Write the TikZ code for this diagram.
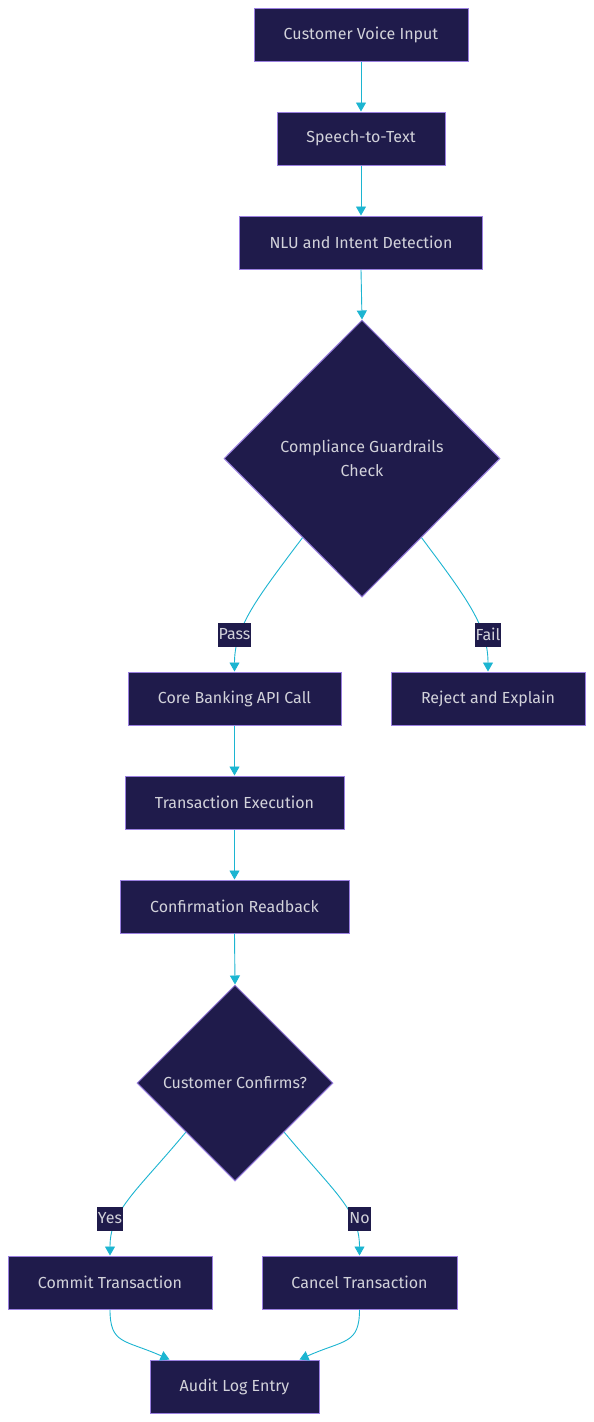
\documentclass[tikz,border=0pt]{standalone}
\usepackage{fontspec}
\setmainfont{Fira Sans}
\usetikzlibrary{shapes.geometric,arrows.meta,calc}

\definecolor{boxfill}{HTML}{1F1B4B}
\definecolor{boxline}{HTML}{9A7FE0}
\definecolor{boxtext}{HTML}{D2D2DA}
\definecolor{flowline}{HTML}{1CB5D1}

\tikzset{
  stepbox/.style={rectangle, draw=boxline, fill=boxfill, text=boxtext,
    line width=1pt, minimum height=53pt, inner sep=0pt,
    font=\fontsize{16}{19}\selectfont},
  decision/.style={diamond, draw=boxline, fill=boxfill, text=boxtext,
    line width=1pt, inner sep=0pt, align=center,
    font=\fontsize{16}{24}\selectfont},
  flow/.style={draw=flowline, line width=0.9pt,
    -{Triangle[width=10pt,length=9pt]}},
  lbl/.style={fill=boxfill, text=boxtext, inner xsep=1pt, inner ysep=0pt,
    minimum height=24pt, font=\fontsize{16}{19}\selectfont}
}

\begin{document}
\begin{tikzpicture}[x=1pt,y=-1pt]

  \fill[white] (0,0) rectangle (594,1422);
  \useasboundingbox (0,0) rectangle (594,1422);

  % steps
  \node[stepbox, minimum width=214pt] (voice)  at (361,35)    {Customer Voice Input};
  \node[stepbox, minimum width=168pt] (stt)    at (361,138.5) {Speech-to-Text};
  \node[stepbox, minimum width=243pt] (nlu)    at (361,242.5) {NLU and Intent Detection};
  \node[decision, minimum width=276pt, minimum height=277pt] (comp) at (362,458.5)
    {Compliance Guardrails\\Check};
  \node[stepbox, minimum width=213pt] (core)   at (234.5,698.5) {Core Banking API Call};
  \node[stepbox, minimum width=194pt] (reject) at (488,698.5)   {Reject and Explain};
  \node[stepbox, minimum width=219pt] (exec)   at (234.5,802.5) {Transaction Execution};
  \node[stepbox, minimum width=229pt] (readback) at (234.5,906.5) {Confirmation Readback};
  \node[decision, minimum width=196pt, minimum height=196pt] (confirm) at (235,1083)
    {Customer Confirms?};
  \node[stepbox, minimum width=204pt] (commit) at (110,1282.5)   {Commit Transaction};
  \node[stepbox, minimum width=195pt] (cancel) at (359.5,1282.5) {Cancel Transaction};
  \node[stepbox, minimum width=169pt] (audit)  at (234.5,1386.5) {Audit Log Entry};

  % straight flows
  \draw[flow] (voice.south) -- (stt.north);
  \draw[flow] (stt.south) -- (nlu.north);
  \draw[flow] (nlu.south) -- (comp.north);
  \draw[flow] (core.south) -- (exec.north);
  \draw[flow] (exec.south) -- (readback.north);
  \draw[flow] (readback.south) -- (confirm.north);

  % branches
  \coordinate (passout) at ($(comp.west)!0.57!(comp.south)$);
  \coordinate (failout) at ($(comp.east)!0.57!(comp.south)$);
  \coordinate (yesout)  at ($(confirm.west)!0.5!(confirm.south)$);
  \coordinate (noout)   at ($(confirm.east)!0.5!(confirm.south)$);

  \draw[flow] (passout) .. controls +(-45,60) and +(0,-45) .. (core.north);
  \draw[flow] (failout) .. controls +(45,60) and +(0,-45) .. (reject.north);
  \draw[flow] (yesout) .. controls +(-50,60) and +(0,-45) .. (commit.north);
  \draw[flow] (noout) .. controls +(50,60) and +(0,-45) .. (cancel.north);

  \draw[flow] (commit.south) .. controls +(0,35) and +(-45,-20) .. ($(audit.north)+(-65,0)$);
  \draw[flow] (cancel.south) .. controls +(0,35) and +(45,-20) .. ($(audit.north)+(65,0)$);

  % labels
  \node[lbl] (pass) at ($(core.north)+(0,-37)$)   {Pass};
  \node[lbl] (fail) at ($(reject.north)+(0,-37)$) {Fail};
  \node[lbl] (yes)  at ($(commit.north)+(0,-37)$) {Yes};
  \node[lbl] (no)   at ($(cancel.north)+(0,-37)$) {No};

\end{tikzpicture}
\end{document}
